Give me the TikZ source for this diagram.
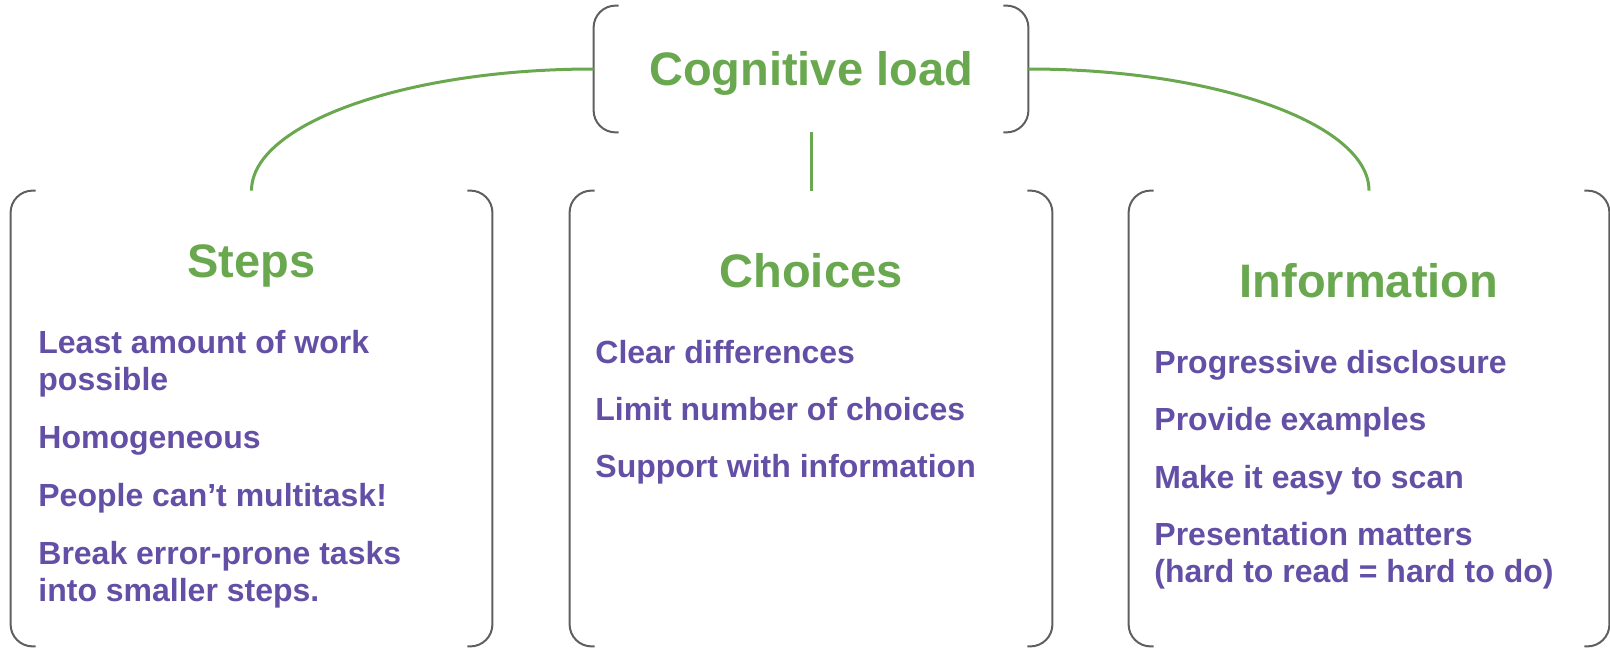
\documentclass[tikz,border=0pt]{standalone}
\usepackage{fontspec}
\setmainfont{Liberation Sans}
\usetikzlibrary{calc}

\definecolor{loadgreen}{HTML}{6AA84F}
\definecolor{itempurple}{HTML}{6350A6}
\definecolor{framegray}{HTML}{5F5F5F}

% open frame: only the two rounded sides of a node
\newcommand{\bracketbox}[1]{%
  \draw[frame] ([xshift=12.5pt]#1.north west) -- (#1.north west) -- (#1.south west) -- ([xshift=12.5pt]#1.south west);
  \draw[frame] ([xshift=-12.5pt]#1.north east) -- (#1.north east) -- (#1.south east) -- ([xshift=-12.5pt]#1.south east);
}

\begin{document}
\begin{tikzpicture}[
    x=0.5pt, y=-0.5pt,
    panel/.style={rectangle, inner sep=0pt, minimum height=227.5pt},
    frame/.style={draw=framegray, line width=1pt, rounded corners=11pt},
    heading/.style={font=\fontsize{23.5}{28}\selectfont\bfseries, text=loadgreen, anchor=base},
    items/.style={font=\fontsize{16}{18.5}\selectfont\bfseries, text=itempurple, align=left, anchor=base west, inner sep=0pt},
    link/.style={draw=loadgreen, line width=1.5pt},
]
\useasboundingbox (0,0) rectangle (1610,648);

\node[panel, minimum width=217pt, minimum height=63pt] (load) at (811,69) {};
\node[heading] (loadtitle) at (811,85) {Cognitive load};

\node[panel, minimum width=240.5pt] (steps) at (251.5,418.5) {};
\node[panel, minimum width=241pt] (choices) at (811,418.5) {};
\node[panel, minimum width=240pt] (info) at (1369,418.5) {};

\foreach \b in {load,steps,choices,info} {\bracketbox{\b}}

\node[heading] (stepstitle) at (251.5,277) {Steps};
\node[heading] (choicestitle) at (811,287) {Choices};
\node[heading] (infotitle) at (1369,297) {Information};

% item lists sit on the baseline of their last line
\node[items] (stepsitems) at (38,601) {Least amount of work\\possible\\[10.5pt]Homogeneous\\[10.5pt]People can’t multitask!\\[10.5pt]Break error-prone tasks\\into smaller steps.};
\node[items] (choicesitems) at (595,477) {Clear differences\\[10pt]Limit number of choices\\[10pt]Support with information};
\node[items] (infoitems) at (1154,582) {Progressive disclosure\\[10pt]Provide examples\\[10.5pt]Make it easy to scan\\[10pt]Presentation matters\\(hard to read = hard to do)};

% quarter-ellipse links
\draw[link] (load.west) .. controls (405,69) and (251.5,124) .. (steps.north);
\draw[link] (load.east) .. controls (1216,69) and (1369,124) .. (info.north);
\draw[link] (load.south) -- (choices.north);

\end{tikzpicture}
\end{document}
